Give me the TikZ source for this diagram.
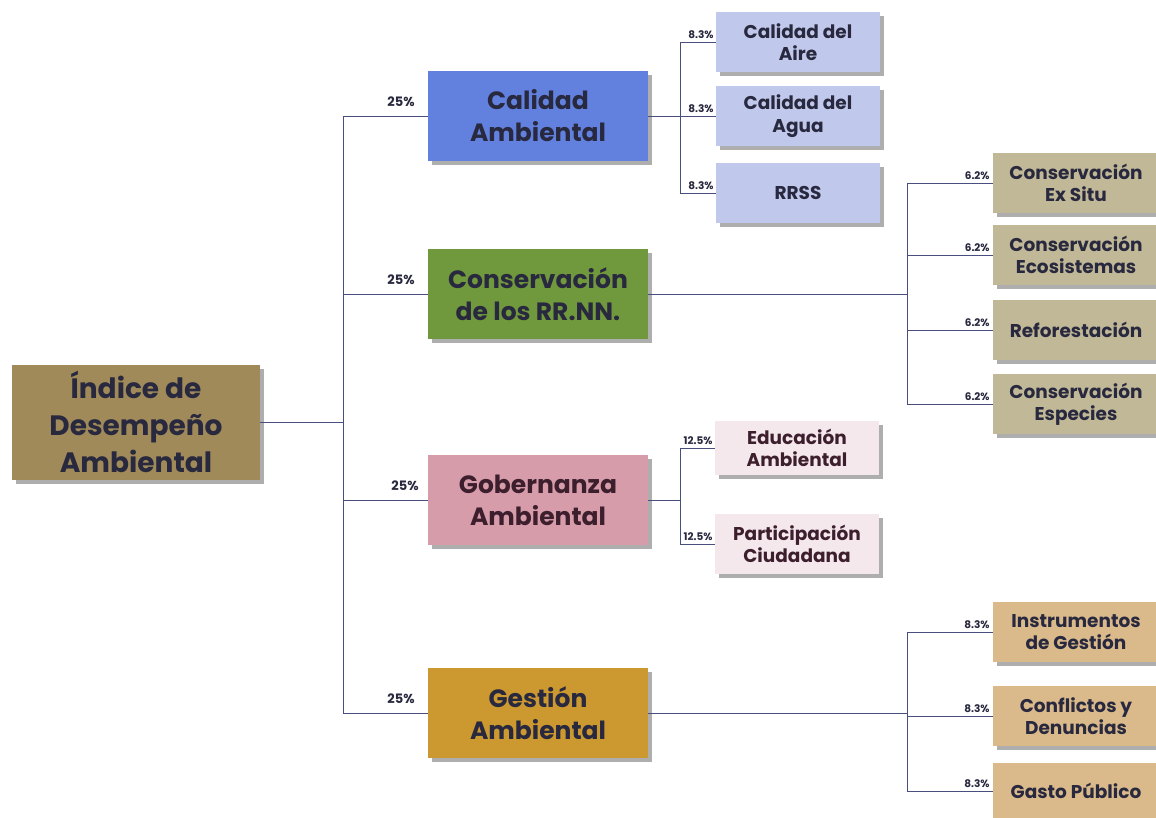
\documentclass[tikz,border=0pt]{standalone}
\usepackage{fontspec}
\setmainfont{Poppins}
\usetikzlibrary{shadows}
\definecolor{rootc}{RGB}{160,138,90}
\definecolor{calc}{RGB}{98,128,222}
\definecolor{calsub}{RGB}{192,200,236}
\definecolor{conc}{RGB}{112,152,60}
\definecolor{consub}{RGB}{192,184,150}
\definecolor{gobc}{RGB}{214,156,170}
\definecolor{gobsub}{RGB}{244,232,236}
\definecolor{gesc}{RGB}{204,152,48}
\definecolor{gessub}{RGB}{218,186,138}
\definecolor{txt}{RGB}{40,40,62}
\definecolor{gobtxt}{RGB}{60,30,45}
\definecolor{linec}{RGB}{72,78,125}
\begin{document}
\begin{tikzpicture}[x=1pt,y=-1pt,
  box/.style={rectangle, draw=none, align=center, text=txt, inner sep=2pt,
    drop shadow={shadow xshift=4pt, shadow yshift=-4pt, fill=black!70, opacity=0.45}},
  rootbox/.style={box, minimum width=248pt, minimum height=115pt, fill=rootc,
    font=\fontsize{28}{37}\selectfont\bfseries},
  lone/.style={box, minimum width=220pt, minimum height=90pt,
    font=\fontsize{25}{32}\selectfont\bfseries},
  ltwo/.style={box, minimum width=164pt, minimum height=60pt,
    font=\fontsize{18.5}{22.5}\selectfont\bfseries},
  pct/.style={font=\fontsize{10.5}{11}\selectfont\bfseries, text=txt, inner sep=1pt, anchor=south east},
  pctb/.style={font=\fontsize{13}{14}\selectfont\bfseries, text=txt, inner sep=1pt, anchor=south east},
  link/.style={draw=linec, line width=0.9pt}
]
\useasboundingbox (0,0) rectangle (1156,818);
\fill[white] (0,0) rectangle (1156,818);

% root
\node[rootbox] (root) at (136,422) {Índice de\\Desempeño\\Ambiental};

% level 1
\node[lone, fill=calc] (cal) at (538,116) {Calidad\\Ambiental};
\node[lone, fill=conc] (con) at (538,294) {Conservación\\de los RR.NN.};
\node[lone, fill=gobc, text=gobtxt] (gob) at (538,500) {Gobernanza\\Ambiental};
\node[lone, fill=gesc] (ges) at (538,713) {Gestión\\Ambiental};

% level 2: calidad
\node[ltwo, fill=calsub] (aire) at (798,42) {Calidad del\\Aire};
\node[ltwo, fill=calsub] (agua) at (798,116) {Calidad del\\Agua};
\node[ltwo, fill=calsub] (rrss) at (798,193) {RRSS};

% level 2: conservacion
\node[ltwo, fill=consub, minimum width=166pt] (exs) at (1076,183) {Conservación\\Ex Situ};
\node[ltwo, fill=consub, minimum width=166pt] (eco) at (1076,255) {Conservación\\Ecosistemas};
\node[ltwo, fill=consub, minimum width=166pt] (ref) at (1076,330) {Reforestación};
\node[ltwo, fill=consub, minimum width=166pt] (esp) at (1076,404) {Conservación\\Especies};

% level 2: gobernanza
\node[ltwo, fill=gobsub, text=gobtxt, minimum height=54pt] (edu) at (797,448) {Educación\\Ambiental};
\node[ltwo, fill=gobsub, text=gobtxt] (par) at (797,544) {Participación\\Ciudadana};

% level 2: gestion
\node[ltwo, fill=gessub, minimum width=166pt] (ins) at (1076,632) {Instrumentos\\de Gestión};
\node[ltwo, fill=gessub, minimum width=166pt] (cnf) at (1076,716) {Conflictos y\\Denuncias};
\node[ltwo, fill=gessub, minimum width=166pt, minimum height=56pt] (gas) at (1076,791) {Gasto Público};

% trunk
\coordinate (tr) at (343,422);
\draw[link] (root.east) -- (tr);
\draw[link] (tr |- cal.west) -- (tr |- ges.west);
\draw[link] (tr |- cal.west) -- (cal.west);
\draw[link] (tr |- con.west) -- (con.west);
\draw[link] (tr |- gob.west) -- (gob.west);
\draw[link] (tr |- ges.west) -- (ges.west);

\node[pctb] at ([xshift=-12pt,yshift=8pt]cal.west) {25\%};
\node[pctb] at ([xshift=-12pt,yshift=8pt]con.west) {25\%};
\node[pctb] at ([xshift=-8pt,yshift=8pt]gob.west) {25\%};
\node[pctb] at ([xshift=-12pt,yshift=8pt]ges.west) {25\%};

% calidad branch
\coordinate (jc) at (680,116);
\draw[link] (cal.east) -- (jc);
\draw[link] (jc |- aire.west) -- (jc |- rrss.west);
\draw[link] (jc |- aire.west) -- (aire.west);
\draw[link] (jc |- agua.west) -- (agua.west);
\draw[link] (jc |- rrss.west) -- (rrss.west);
\node[pct] at ([xshift=-1pt,yshift=2pt]aire.west) {8.3\%};
\node[pct] at ([xshift=-1pt,yshift=2pt]agua.west) {8.3\%};
\node[pct] at ([xshift=-1pt,yshift=2pt]rrss.west) {8.3\%};

% conservacion branch
\coordinate (jn) at (907,294);
\draw[link] (con.east) -- (jn);
\draw[link] (jn |- exs.west) -- (jn |- esp.west);
\draw[link] (jn |- exs.west) -- (exs.west);
\draw[link] (jn |- eco.west) -- (eco.west);
\draw[link] (jn |- ref.west) -- (ref.west);
\draw[link] (jn |- esp.west) -- (esp.west);
\node[pct] at ([xshift=-2pt,yshift=2pt]exs.west) {6.2\%};
\node[pct] at ([xshift=-2pt,yshift=2pt]eco.west) {6.2\%};
\node[pct] at ([xshift=-2pt,yshift=2pt]ref.west) {6.2\%};
\node[pct] at ([xshift=-2pt,yshift=2pt]esp.west) {6.2\%};

% gobernanza branch
\coordinate (jg) at (680,500);
\draw[link] (gob.east) -- (jg);
\draw[link] (jg |- edu.west) -- (jg |- par.west);
\draw[link] (jg |- edu.west) -- (edu.west);
\draw[link] (jg |- par.west) -- (par.west);
\node[pct] at ([xshift=-1pt,yshift=2pt]edu.west) {12.5\%};
\node[pct] at ([xshift=-1pt,yshift=2pt]par.west) {12.5\%};

% gestion branch
\coordinate (js) at (907,713);
\draw[link] (ges.east) -- (js);
\draw[link] (js |- ins.west) -- (js |- gas.west);
\draw[link] (js |- ins.west) -- (ins.west);
\draw[link] (js |- cnf.west) -- (cnf.west);
\draw[link] (js |- gas.west) -- (gas.west);
\node[pct] at ([xshift=-2pt,yshift=2pt]ins.west) {8.3\%};
\node[pct] at ([xshift=-2pt,yshift=2pt]cnf.west) {8.3\%};
\node[pct] at ([xshift=-2pt,yshift=2pt]gas.west) {8.3\%};
\end{tikzpicture}
\end{document}
